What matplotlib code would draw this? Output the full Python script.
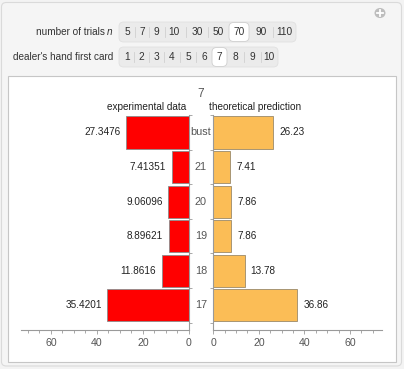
import matplotlib
matplotlib.use('Agg')
import matplotlib.pyplot as plt
from matplotlib.patches import FancyBboxPatch, Rectangle, Circle
from matplotlib.lines import Line2D

plt.rcParams['font.family'] = ['Liberation Sans', 'DejaVu Sans']

# data
categories = ['17', '18', '19', '20', '21', 'bust']
experimental = [35.4201, 11.8616, 8.89621, 9.06096, 7.41351, 27.3476]
theoretical = [36.86, 13.78, 7.86, 7.86, 7.41, 26.23]
exp_labels = ['35.4201', '11.8616', '8.89621', '9.06096', '7.41351', '27.3476']
theo_labels = ['36.86', '13.78', '7.86', '7.86', '7.41', '26.23']
dealer_card = '7'

trial_options = ['5', '7', '9', '10', '30', '50', '70', '90', '110']
trial_centers = [127, 142, 156, 174, 197, 218, 239, 261, 284]
card_options = ['1', '2', '3', '4', '5', '6', '7', '8', '9', '10']
card_centers = [127, 141, 156, 172, 188, 204, 219, 235, 252, 269]

W, H = 404, 369
fig = plt.figure(figsize=(W / 100, H / 100), dpi=100)
fig.patch.set_facecolor('#f3f3f3')


def fx(x):
    return x / W


def fy(y):
    return 1 - y / H


# outer frame and inner white panel
fig.patches.append(FancyBboxPatch((fx(1.5), fy(366)), fx(400), 363.5 / H,
                                  boxstyle='round,pad=0,rounding_size=0.012',
                                  transform=fig.transFigure, facecolor='#f5f5f5',
                                  edgecolor='#dadada', lw=0.8, zorder=-2))
fig.patches.append(Rectangle((fx(7.5), fy(361.5)), fx(388.5), 285.5 / H,
                             transform=fig.transFigure, facecolor='white',
                             edgecolor='#c6c6c6', lw=0.8, zorder=-1))

# plus icon
fig.patches.append(Circle((fx(380), fy(13)), 5.5 / W, transform=fig.transFigure,
                          facecolor='#bdbdbd', edgecolor='none'))
fig.lines.append(Line2D([fx(377.3), fx(382.7)], [fy(13), fy(13)], transform=fig.transFigure,
                        color='white', lw=1.3))
fig.lines.append(Line2D([fx(380), fx(380)], [fy(10.3), fy(15.7)], transform=fig.transFigure,
                        color='white', lw=1.3))


def control_row(options, centers, selected, x0, x1, y0, y1, sel_box):
    fig.patches.append(FancyBboxPatch((fx(x0), fy(y1)), fx(x1 - x0), (y1 - y0) / H,
                                      boxstyle='round,pad=0,rounding_size=0.012',
                                      transform=fig.transFigure, facecolor='#ebebeb',
                                      edgecolor='#e0e0e0', lw=0.6))
    fig.patches.append(FancyBboxPatch((fx(sel_box[0]), fy(y1 - 0.5)), fx(sel_box[1] - sel_box[0]),
                                      (y1 - y0 - 1) / H,
                                      boxstyle='round,pad=0,rounding_size=0.012',
                                      transform=fig.transFigure, facecolor='white',
                                      edgecolor='#cfcfcf', lw=0.6))
    si = options.index(selected)
    for i in range(len(centers) - 1):
        if i == si or i + 1 == si:
            continue
        xm = (centers[i] + centers[i + 1]) / 2
        fig.lines.append(Line2D([fx(xm), fx(xm)], [fy(y0 + 5), fy(y1 - 5)],
                                transform=fig.transFigure, color='#d0d0d0', lw=0.6))
    yc = (y0 + y1) / 2
    for opt, c in zip(options, centers):
        fig.text(fx(c), fy(yc), opt, ha='center', va='center', fontsize=7.3, color='#333333')


fig.text(fx(105), fy(32), 'number of trials', ha='right', va='center', fontsize=7.2, color='#333333')
fig.text(fx(107), fy(32), 'n', ha='left', va='center', fontsize=7.2, style='italic', color='#333333')
fig.text(fx(113), fy(57), "dealer's hand first card", ha='right', va='center', fontsize=7.2,
         color='#333333')
control_row(trial_options, trial_centers, '70', 119, 296, 22, 42, (229, 249))
control_row(card_options, card_centers, '7', 119, 278, 47, 67, (212, 227))

# chart axes
ax_bottom, ax_top = 329.5, 115.2
ax_l = fig.add_axes([fx(21), fy(ax_bottom), fx(189 - 21), (ax_bottom - ax_top) / H], zorder=5)
ax_r = fig.add_axes([fx(213.3), fy(ax_bottom), fx(381.7 - 213.3), (ax_bottom - ax_top) / H], zorder=5)

pos = list(range(len(categories)))
ax_l.barh(pos, experimental, height=0.93, color='#ff0000', edgecolor='#8c8c8c', lw=0.6)
ax_r.barh(pos, theoretical, height=0.93, color='#fbbd56', edgecolor='#9a8a6a', lw=0.6)

ax_l.set_xlim(73, 0)
ax_r.set_xlim(0, 73.9)
for ax in (ax_l, ax_r):
    ax.set_ylim(-0.70, 5.5)
    ax.set_facecolor('none')
    for s in ('top', 'left', 'right', 'bottom'):
        ax.spines[s].set_visible(False)
    ax.spines['bottom'].set_visible(True)
    ax.spines['bottom'].set_color('#9a9a9a')
    ax.spines['bottom'].set_linewidth(0.8)
    ax.set_xticks([0, 20, 40, 60])
    ax.set_xticks(range(0, 75, 5), minor=True)
    ax.tick_params(axis='x', which='major', length=3, width=0.6, color='#9a9a9a',
                   labelsize=7.6, labelcolor='#555555', pad=3)
    ax.tick_params(axis='x', which='minor', length=2, width=0.6, color='#9a9a9a')
    ax.set_yticks([p - 0.5 for p in pos] + [5.5])
    ax.set_yticklabels([])

ax_l.spines['right'].set_visible(True)
ax_l.spines['right'].set_color('#9a9a9a')
ax_l.spines['right'].set_linewidth(0.8)
ax_l.yaxis.tick_right()
ax_r.spines['left'].set_visible(True)
ax_r.spines['left'].set_color('#9a9a9a')
ax_r.spines['left'].set_linewidth(0.8)
for ax in (ax_l, ax_r):
    ax.tick_params(axis='y', length=2.5, width=0.6, color='#9a9a9a')

# value labels
for p, v, t in zip(pos, experimental, exp_labels):
    ax_l.annotate(t, xy=(v, p), xytext=(-4, 0), textcoords='offset points',
                  ha='right', va='center', fontsize=7.2, color='#222222')
for p, v, t in zip(pos, theoretical, theo_labels):
    ax_r.annotate(t, xy=(v, p), xytext=(4.3, 0), textcoords='offset points',
                  ha='left', va='center', fontsize=7.2, color='#222222')

# category labels in the gap
for p, c in zip(pos, categories):
    ax_r.annotate(c, xy=(0, p), xytext=(-8.9, 0), textcoords='offset points',
                  ha='center', va='center', fontsize=7.8, color='#555555',
                  annotation_clip=False)

fig.text(fx(201), fy(94), dealer_card, ha='center', va='center', fontsize=8.5, color='#555555')
fig.text(fx(186), fy(107), 'experimental data', ha='right', va='center', fontsize=7.2, color='#222222')
fig.text(fx(209), fy(107), 'theoretical prediction', ha='left', va='center', fontsize=7.2, color='#222222')

fig.savefig('out.png', dpi=100, facecolor=fig.get_facecolor())
